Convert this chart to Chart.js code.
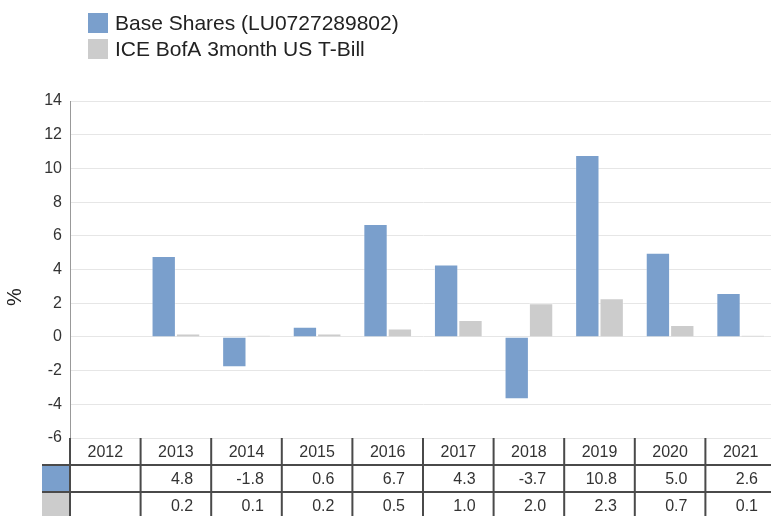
<!DOCTYPE html>
<html>
<head>
<meta charset="utf-8">
<script src="https://cdn.jsdelivr.net/npm/chart.js@4.4.1/dist/chart.umd.min.js"></script>
<style>
  html, body { margin: 0; padding: 0; background: #fff; overflow: hidden; }
  #wrap { width: 780px; height: 516px; }
</style>
</head>
<body>
<div id="wrap"><canvas id="perfChart" width="780" height="516"></canvas></div>
<script>
const years = ['2012', '2013', '2014', '2015', '2016', '2017', '2018', '2019', '2020', '2021'];
const baseShares = [null, 4.8, -1.8, 0.6, 6.7, 4.3, -3.7, 10.8, 5.0, 2.6];
const tBill = [null, 0.2, 0.1, 0.2, 0.5, 1.0, 2.0, 2.3, 0.7, 0.1];
const seriesNames = ['Base Shares (LU0727289802)', 'ICE BofA 3month US T-Bill'];
const seriesColors = ['#7a9fcc', '#cccccc'];
const yTitle = '%';

const FONT = '"Liberation Sans", Arial, sans-serif';

// legend, axis title and data table under the plot
const tablePlugin = {
  id: 'tablePlugin',
  afterDraw(chart) {
    const ctx = chart.ctx;
    const x = chart.scales.x;
    const area = chart.chartArea;
    const half = (x.getPixelForValue(1) - x.getPixelForValue(0)) / 2;
    const top = area.bottom;
    const rowH = 27;
    const rows = [baseShares, tBill];

    ctx.save();
    // legend
    ctx.font = '21px ' + FONT;
    ctx.textBaseline = 'middle';
    ctx.textAlign = 'left';
    seriesNames.forEach((name, i) => {
      const y = 13 + i * 26;
      ctx.fillStyle = seriesColors[i];
      ctx.fillRect(88, y, 20, 20);
      ctx.fillStyle = '#222';
      ctx.fillText(name, 115, y + 11);
    });

    // y title
    ctx.save();
    ctx.translate(15, 297);
    ctx.rotate(-Math.PI / 2);
    ctx.textAlign = 'center';
    ctx.font = '20px ' + FONT;
    ctx.fillText(yTitle, 0, 0);
    ctx.restore();

    // colour cells
    rows.forEach((r, i) => {
      ctx.fillStyle = seriesColors[i];
      ctx.fillRect(42, top + rowH * (i + 1), area.left - 42, rowH);
    });

    // lines
    ctx.strokeStyle = '#4a4a4a';
    ctx.lineWidth = 2;
    ctx.beginPath();
    for (let i = 1; i <= 2; i++) {
      ctx.moveTo(42, top + rowH * i);
      ctx.lineTo(area.right + 4, top + rowH * i);
    }
    ctx.moveTo(area.left, top);
    ctx.lineTo(area.left, chart.height);
    years.forEach((y, i) => {
      const xr = x.getPixelForValue(i) + half;
      ctx.moveTo(xr, top);
      ctx.lineTo(xr, chart.height);
    });
    ctx.stroke();

    // text
    ctx.font = '16px ' + FONT;
    ctx.fillStyle = '#333';
    ctx.textAlign = 'center';
    years.forEach((y, i) => {
      ctx.fillText(y, x.getPixelForValue(i), top + rowH / 2 + 1);
    });
    ctx.textAlign = 'right';
    rows.forEach((r, ri) => {
      r.forEach((v, i) => {
        if (v === null) return;
        ctx.fillText(v.toFixed(1), x.getPixelForValue(i) + half - 18, top + rowH * (ri + 1) + rowH / 2 + 1);
      });
    });
    ctx.restore();
  }
};

new Chart(document.getElementById('perfChart'), {
  type: 'bar',
  data: {
    labels: years,
    datasets: [
      { label: seriesNames[0], data: baseShares, backgroundColor: seriesColors[0], borderColor: 'rgba(255,255,255,0.35)', borderWidth: 1 },
      { label: seriesNames[1], data: tBill, backgroundColor: seriesColors[1], borderColor: 'rgba(255,255,255,0.35)', borderWidth: 1 }
    ]
  },
  options: {
    responsive: false,
    animation: false,
    layout: { padding: { top: 101, bottom: 78, left: 0, right: 4 } },
    datasets: { bar: { categoryPercentage: 0.69, barPercentage: 1.0 } },
    plugins: { legend: { display: false }, tooltip: { enabled: false } },
    scales: {
      x: { display: false },
      y: {
        min: -6,
        max: 14,
        ticks: { stepSize: 2, color: '#333', padding: 8, font: { size: 16, family: FONT } },
        grid: { color: '#e6e6e6', drawTicks: false },
        border: { display: true, color: '#999' },
        afterFit(scale) { scale.width = 70; }
      }
    }
  },
  plugins: [tablePlugin]
});
</script>
</body>
</html>
